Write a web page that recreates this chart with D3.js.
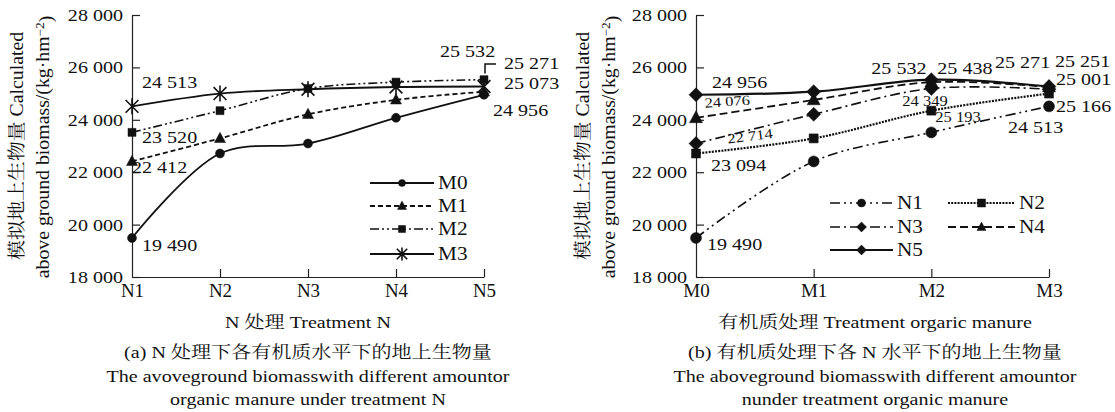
<!DOCTYPE html>
<html lang="zh">
<head>
<meta charset="utf-8">
<title>Aboveground biomass</title>
<script src="https://d3js.org/d3.v7.min.js"></script>
<style>
body{margin:0;background:#fff;}
text{font-family:'Liberation Serif','Noto Serif CJK SC','Noto Sans CJK SC',serif;fill:#111;}
</style>
</head>
<body>
<div id="chart"></div>
<script>
var nLevels = ["N1","N2","N3","N4","N5"];
var mLevels = ["M0","M1","M2","M3"];
// simulated biomass (kg/hm2), one array per manure level, values for N1..N5
var m0 = [19490, 22714, 23094, 24076, 24956];
var m1 = [22412, 23290, 24210, 24760, 25073];
var m2 = [23520, 24349, 25193, 25438, 25532];
var m3 = [24513, 25001, 25166, 25251, 25271];
var yTicks = [18000, 20000, 22000, 24000, 26000, 28000];

var W = 1115, H = 412;
var WIDE = 1.18; // the reference glyphs are wider than Times
var svg = d3.select("#chart").append("svg").attr("width",W).attr("height",H);
var fmt = d3.formatLocale({decimal:".",thousands:" ",grouping:[3],currency:["",""]}).format(",d");
var rows = [m0,m1,m2,m3];
function val(m,n){ return rows[m][n]; }

var y = d3.scaleLinear().domain([18000,28000]).range([277,15]);
var xA = d3.scalePoint().domain(nLevels).range([132,484]);
var xB = d3.scalePoint().domain(mLevels).range([696,1049]);

function widen(sel, k){
	sel.each(function(){
		var l = this.getComputedTextLength();
		d3.select(this).attr("textLength", l*(k || WIDE)).attr("lengthAdjust","spacingAndGlyphs");
	});
}

function marker(kind, r){
	if(kind=="circle") return d3.symbol(d3.symbolCircle, Math.PI*r*r)();
	if(kind=="square") return "M"+(-r)+","+(-r)+"h"+2*r+"v"+2*r+"h"+(-2*r)+"Z";
	if(kind=="triangle") return "M0,"+(-r*1.1)+"L"+r+","+r*0.75+"L"+(-r)+","+r*0.75+"Z";
	if(kind=="diamond") return "M0,"+(-r)+"L"+r+",0L0,"+r+"L"+(-r)+",0Z";
	// asterisk: X plus vertical bar
	var d = r*0.8;
	return "M"+(-d)+","+(-d)+"L"+d+","+d+"M"+d+","+(-d)+"L"+(-d)+","+d+"M0,"+(-r)+"L0,"+r;
}

function drawAxes(g, x){
	var ay = g.append("g").attr("transform","translate("+x.range()[0]+",0)")
		.call(d3.axisLeft(y).tickValues(yTicks).tickFormat(fmt).tickSizeInner(-8).tickSizeOuter(0).tickPadding(9));
	ay.selectAll("text").style("font-size","17px").call(widen);
	var ax = g.append("g").attr("transform","translate(0,277)")
		.call(d3.axisBottom(x).tickSizeInner(-8).tickSizeOuter(0).tickPadding(7));
	ax.selectAll("text").style("font-size","19px");
	g.selectAll(".domain,.tick line").attr("stroke","#222").attr("stroke-width",1.2);
	// x axis must not show a tick over the y axis
	ax.select(".tick line").attr("opacity",0);
}

function yTitle(g, cx){
	var t1 = g.append("text").attr("transform","translate("+cx+",146) rotate(-90)")
		.attr("text-anchor","middle").attr("dy","0.35em").style("font-size","18px")
		.text("模拟地上生物量 Calculated");
	t1.call(widen, 1.1);
	var t2 = g.append("text").attr("transform","translate("+(cx+26)+",147) rotate(-90)")
		.attr("text-anchor","middle").attr("dy","0.35em").style("font-size","18px");
	t2.append("tspan").text("above ground biomass/(kg·hm");
	t2.append("tspan").attr("dy","-0.45em").style("font-size","12px").text("−2");
	t2.append("tspan").attr("dy","0.45em").text(")");
	t2.call(widen, 1.1);
}

function drawSeries(g, x, cats, vals, st, r){
	var line = d3.line().x(function(d,i){return x(cats[i]);}).y(function(d){return y(d);})
		.curve(d3.curveCatmullRom.alpha(0.5));
	g.append("path").attr("d", line(vals)).attr("fill","none").attr("stroke","#111")
		.attr("stroke-width", st.w).attr("stroke-dasharray", st.dash || null);
	g.selectAll(null).data(vals).enter().append("path")
		.attr("transform",function(d,i){return "translate("+x(cats[i])+","+y(d)+")";})
		.attr("d", marker(st.mark, r))
		.attr("fill","#111").attr("stroke","#111")
		.attr("stroke-width", st.mark=="asterisk" ? 1.6 : 0.5);
}

function legendItem(g, x0, x1, ly, st, r, name){
	g.append("line").attr("x1",x0).attr("x2",x1).attr("y1",ly).attr("y2",ly)
		.attr("stroke","#111").attr("stroke-width",st.w).attr("stroke-dasharray",st.dash || null);
	g.append("path").attr("transform","translate("+(x0+x1)/2+","+ly+")").attr("d",marker(st.mark,r))
		.attr("fill","#111").attr("stroke","#111").attr("stroke-width", st.mark=="asterisk" ? 1.6 : 0.5);
	g.append("text").attr("x",x1+4).attr("y",ly).attr("dy","0.35em").style("font-size","18px").text(name).call(widen);
}

function labels(g, list, xOf){
	list.forEach(function(l){
		var px = xOf(l), py = y(val(l.m,l.n));
		var t = g.append("text").attr("x",px+l.dx).attr("y",py+l.dy)
			.style("font-size",(l.small ? 14 : 17)+"px").text(fmt(val(l.m,l.n)));
		if(l.rot) t.attr("transform","rotate("+l.rot+","+(px+l.dx)+","+(py+l.dy)+")");
		t.call(widen);
	});
}

function caption(g, cx, lines){
	lines.forEach(function(s,i){
		g.append("text").attr("x",cx).attr("y",[328,358,382,405][i]).attr("text-anchor","middle")
			.style("font-size","17px").text(s).call(widen);
	});
}

// ---- (a) series over N treatments
var stylesA = [
	{w:1.8, dash:null, mark:"circle"},
	{w:1.8, dash:"5,3", mark:"triangle"},
	{w:1.6, dash:"9,3,2,3,2,3", mark:"square"},
	{w:1.8, dash:null, mark:"asterisk"}
];
var radA = [4.5, 5.5, 4, 8];
var legRadA = [3.5, 4.5, 3.5, 6.5];
var gA = svg.append("g");
drawAxes(gA, xA);
yTitle(gA, 17);
mLevels.forEach(function(m,i){ drawSeries(gA, xA, nLevels, rows[i], stylesA[i], radA[i]); });
mLevels.forEach(function(m,i){ legendItem(gA, 370, 434, [183,206,229,254][i], stylesA[i], legRadA[i], m); });
labels(gA, [
	{m:3,n:0,dx:10,dy:-18},{m:2,n:0,dx:10,dy:11},{m:1,n:0,dx:0,dy:12},{m:0,n:0,dx:10,dy:13},
	{m:2,n:4,dx:-44,dy:-23},{m:3,n:4,dx:20,dy:-17},{m:1,n:4,dx:20,dy:-3},{m:0,n:4,dx:9,dy:21}
], function(l){ return xA(nLevels[l.n]); });
// leader from the M3/N5 point up to its label
var lp = [xA("N5")+1, y(val(3,4))];
gA.append("path").attr("d","M"+lp[0]+","+(lp[1]-13)+"V"+(lp[1]-22.5)+"H"+(lp[0]+11))
	.attr("fill","none").attr("stroke","#111").attr("stroke-width",1.5);
caption(gA, 308, ["N 处理 Treatment N","(a) N 处理下各有机质水平下的地上生物量",
	"The avoveground biomasswith different amountor","organic manure under treatment N"]);

// ---- (b) series over manure treatments
var stylesB = [
	{w:1.6, dash:"10,4,2,4,2,4", mark:"circle"},
	{w:2.2, dash:"2,1.2", mark:"square"},
	{w:1.6, dash:"10,4,2,4", mark:"diamond"},
	{w:1.8, dash:"8,4", mark:"triangle"},
	{w:2.2, dash:null, mark:"diamond"}
];
var radB = [5.5, 4.5, 7, 6.5, 7];
var legRadB = [4, 4, 5, 4.5, 5];
var gB = svg.append("g");
drawAxes(gB, xB);
yTitle(gB, 583);
nLevels.forEach(function(n,j){
	var vals = rows.map(function(r){ return r[j]; });
	drawSeries(gB, xB, mLevels, vals, stylesB[j], radB[j]);
});
var legPos = [[830,893,203],[948,1015,203],[830,893,227],[948,1015,227],[830,893,250]];
nLevels.forEach(function(n,j){ legendItem(gB, legPos[j][0], legPos[j][1], legPos[j][2], stylesB[j], legRadB[j], n); });
labels(gB, [
	{m:0,n:4,dx:16,dy:-7},{m:0,n:3,dx:9,dy:-10,small:true,rot:-4},{m:0,n:1,dx:32,dy:-10,small:true,rot:-7},
	{m:0,n:2,dx:15,dy:27},{m:0,n:0,dx:11,dy:12},
	{m:2,n:4,dx:-60,dy:-6},{m:2,n:3,dx:6,dy:-8},{m:2,n:1,dx:-29,dy:-5,small:true},{m:2,n:2,dx:4,dy:33,small:true},
	{m:3,n:4,dx:-54,dy:-18},{m:3,n:3,dx:6,dy:-20},{m:3,n:1,dx:7,dy:-9},{m:3,n:2,dx:7,dy:23},{m:3,n:0,dx:-41,dy:27}
], function(l){ return xB(mLevels[l.m]); });
caption(gB, 875, ["有机质处理 Treatment orgaric manure","(b) 有机质处理下各 N 水平下的地上生物量",
	"The aboveground biomasswith different amountor","nunder treatment organic manure"]);
</script>
</body>
</html>
